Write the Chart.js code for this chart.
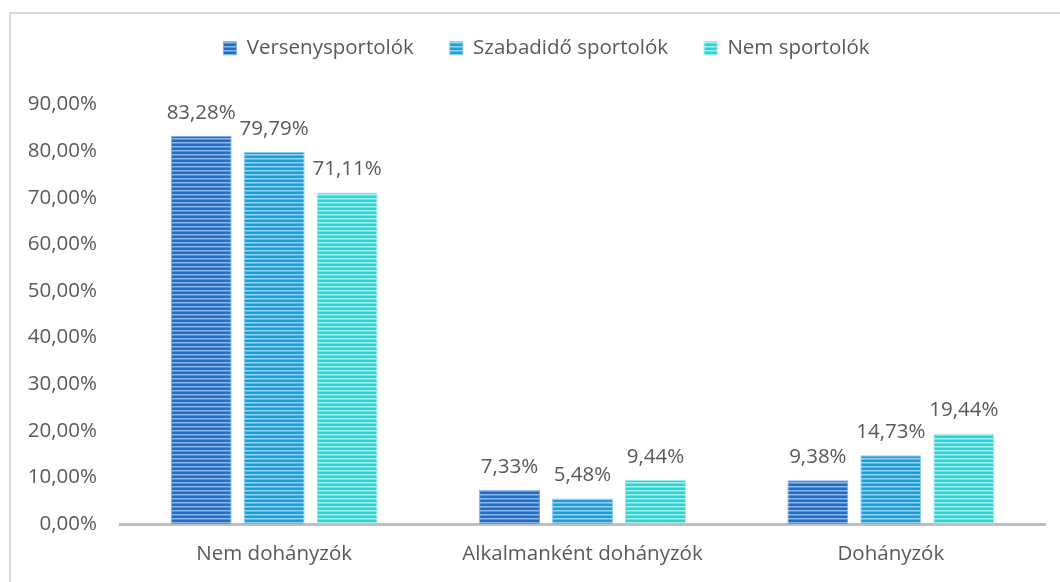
<!DOCTYPE html>
<html>
<head>
<meta charset="utf-8">
<script src="https://cdn.jsdelivr.net/npm/chart.js@4"></script>
<style>
  html,body{margin:0;padding:0;background:#fff;overflow:hidden;}
  #frame{position:absolute;left:9px;top:12px;width:1100px;height:620px;border:2px solid #d9d9d9;}
  #wrap{position:absolute;left:0;top:0;width:1060px;height:582px;}
</style>
</head>
<body>
<div id="frame"></div>
<div id="wrap"><canvas id="chart"></canvas></div>
<script>
const categories = ['Nem dohányzók', 'Alkalmanként dohányzók', 'Dohányzók'];
const seriesNames = ['Versenysportolók', 'Szabadidő sportolók', 'Nem sportolók'];
const versenySport = [83.28, 7.33, 9.38];
const szabadidoSport = [79.79, 5.48, 14.73];
const nemSport = [71.11, 9.44, 19.44];
const yTicks = [0, 10, 20, 30, 40, 50, 60, 70, 80, 90];

const textColor = '#595959';
const fontFam = '"Open Sans", "DejaVu Sans", sans-serif';
const fontSize = 20.5;
const pct = v => v.toFixed(2).replace('.', ',') + '%';

// horizontal stripes like the office pattern fill
function stripes(dark, light){
  const c = document.createElement('canvas');
  c.width = 4; c.height = 4;
  const g = c.getContext('2d');
  g.fillStyle = dark; g.fillRect(0, 0, 4, 4);
  g.fillStyle = light; g.fillRect(0, 2, 4, 1.5);
  return g.createPattern(c, 'repeat');
}
const fills = [
  stripes('#1f6dc6', '#8db9ea'),
  stripes('#19a0dc', '#94d4f2'),
  stripes('#25d6d6', '#a8efef')
];
const edges = ['#7eaee6', '#86cdef', '#9aeaea'];

const labelPlugin = {
  id: 'barLabels',
  afterDatasetsDraw(chart){
    const ctx = chart.ctx;
    ctx.save();
    ctx.font = fontSize + 'px ' + fontFam;
    ctx.fillStyle = textColor;
    ctx.textAlign = 'center';
    ctx.textBaseline = 'middle';
    chart.data.datasets.forEach((ds, i) => {
      chart.getDatasetMeta(i).data.forEach((bar, j) => {
        ctx.fillText(pct(ds.data[j]), bar.x, bar.y - 23);
      });
    });
    ctx.restore();
  }
};

// extra room below the legend, and legend nudged right
const legendTweak = {
  id: 'legendTweak',
  beforeInit(chart){
    const fit = chart.legend.fit;
    chart.legend.fit = function(){ fit.bind(chart.legend)(); this.height += 36; };
  },
  afterLayout(chart){
    chart.legend.left += 24;
    chart.legend.right += 24;
  }
};

const allData = [versenySport, szabadidoSport, nemSport];
new Chart(document.getElementById('chart'), {
  type: 'bar',
  data: {
    labels: categories,
    datasets: seriesNames.map((n, i) => ({
      label: n,
      data: allData[i],
      backgroundColor: fills[i],
      borderColor: edges[i],
      borderWidth: 1,
      categoryPercentage: 0.71,
      barPercentage: 0.835
    }))
  },
  options: {
    responsive: true,
    maintainAspectRatio: false,
    animation: false,
    layout: {padding: {left: 0, right: 15, top: 2, bottom: 0}},
    plugins: {
      legend: {
        position: 'top',
        labels: {
          boxWidth: 13, boxHeight: 13, padding: 36,
          color: textColor, font: {family: fontFam, size: fontSize}
        }
      },
      tooltip: {enabled: false}
    },
    scales: {
      x: {
        grid: {display: false, drawTicks: false},
        border: {color: '#bfbfbf', width: 3},
        ticks: {color: textColor, font: {family: fontFam, size: fontSize}, padding: 18},
        afterFit: s => { s.height = 58; }
      },
      y: {
        min: 0, max: 90,
        grid: {display: false, drawTicks: false},
        border: {display: false},
        afterBuildTicks: s => { s.ticks = yTicks.map(v => ({value: v})); },
        ticks: {color: textColor, font: {family: fontFam, size: fontSize}, padding: 23, callback: v => pct(v)},
        afterFit: s => { s.width = 120; }
      }
    }
  },
  plugins: [labelPlugin, legendTweak]
});
</script>
</body>
</html>
